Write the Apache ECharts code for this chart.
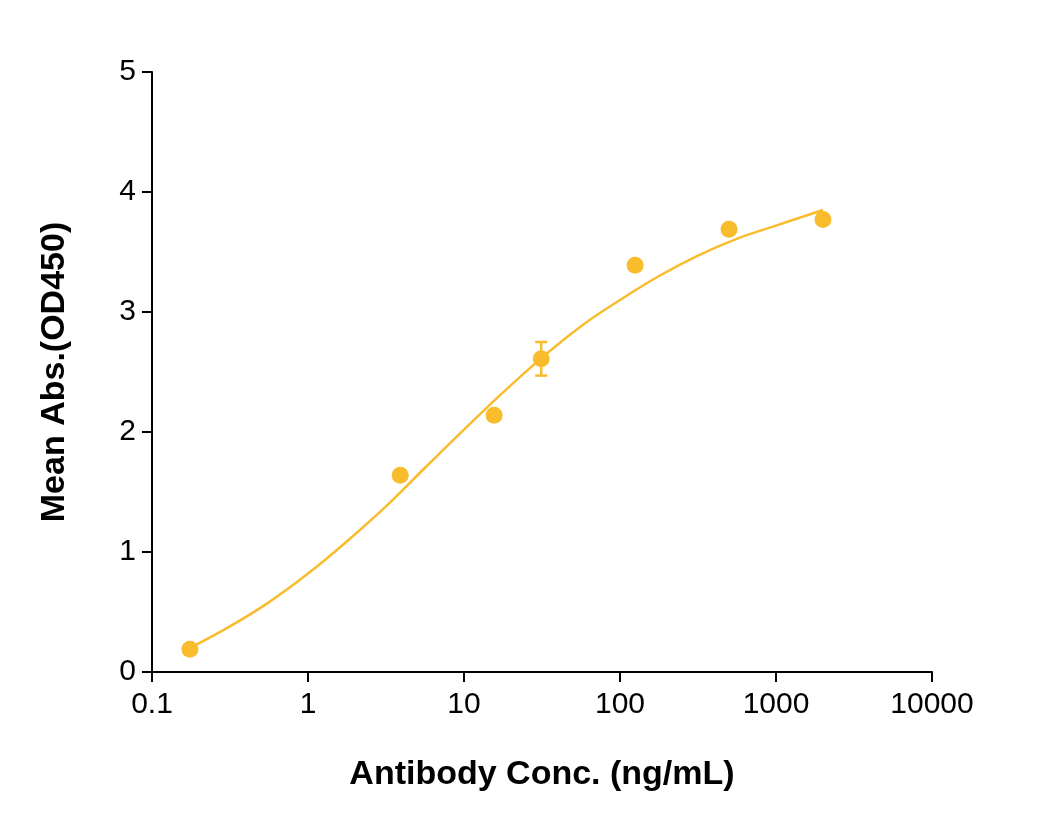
<!DOCTYPE html>
<html><head><meta charset="utf-8">
<script src="https://cdn.jsdelivr.net/npm/echarts@6/dist/echarts.min.js"></script>
<style>html,body{margin:0;background:#fff}#c{width:1055px;height:837px}</style>
</head><body><div id="c"></div>
<script>
// measured points
var conc = [0.175, 3.9, 15.6, 31.25, 125, 500, 2000];
var absMean = [0.19, 1.64, 2.14, 2.61, 3.39, 3.69, 3.77];
var absErr = [0, 0, 0, 0.14, 0, 0, 0];
// fitted curve
var curveX = [0.175, 0.316, 0.56, 1, 1.78, 3.16, 5.6, 10, 17.8, 31.6, 56, 100, 178, 316, 560, 1000, 2000];
var curveY = [0.2, 0.38, 0.58, 0.82, 1.09, 1.38, 1.7, 2.02, 2.33, 2.62, 2.88, 3.1, 3.3, 3.47, 3.61, 3.72, 3.85];

var col = '#F9BC2C';
var chart = echarts.init(document.getElementById('c'));
chart.setOption({
	animation:false,
	grid:{left:152, right:123, top:72, bottom:165},
	xAxis:{
		type:'log', min:0.1, max:10000, logBase:10,
		name:'Antibody Conc. (ng/mL)', nameLocation:'middle', nameGap:86,
		nameTextStyle:{fontSize:34, fontWeight:'bold', color:'#000', fontFamily:'Liberation Sans'},
		axisLine:{lineStyle:{color:'#000', width:2}},
		axisTick:{lineStyle:{color:'#000', width:2}, length:10},
		minorTick:{show:false},
		axisLabel:{fontSize:30, color:'#000', fontFamily:'Liberation Sans', margin:18,
			formatter:function(v){return v<1 ? '0.1' : String(Math.round(v));}},
		splitLine:{show:false}
	},
	yAxis:{
		type:'value', min:0, max:5, interval:1,
		name:'Mean Abs.(OD450)', nameLocation:'middle', nameGap:80,
		nameTextStyle:{fontSize:34, fontWeight:'bold', color:'#000', fontFamily:'Liberation Sans'},
		axisLine:{show:true, lineStyle:{color:'#000', width:2}},
		axisTick:{show:true, lineStyle:{color:'#000', width:2}, length:10},
		axisLabel:{fontSize:30, color:'#000', fontFamily:'Liberation Sans', margin:16},
		splitLine:{show:false}
	},
	series:[{
		type:'line', smooth:0.4, showSymbol:false,
		data:curveX.map(function(x,i){return [x, curveY[i]];}),
		lineStyle:{color:col, width:2.5}
	},{
		type:'custom',
		data:conc.map(function(x,i){return [x, absMean[i], absErr[i]];}),
		renderItem:function(params, api){
			var e = api.value(2);
			if(!e) return null;
			var x = api.value(0), y = api.value(1);
			var hi = api.coord([x, y+e]), lo = api.coord([x, y-e]);
			var s = {stroke:col, lineWidth:2.5};
			return {type:'group', children:[
				{type:'line', shape:{x1:hi[0],y1:hi[1],x2:lo[0],y2:lo[1]}, style:s},
				{type:'line', shape:{x1:hi[0]-6,y1:hi[1],x2:hi[0]+6,y2:hi[1]}, style:s},
				{type:'line', shape:{x1:lo[0]-6,y1:lo[1],x2:lo[0]+6,y2:lo[1]}, style:s}
			]};
		}
	},{
		type:'scatter', symbolSize:17,
		data:conc.map(function(x,i){return [x, absMean[i]];}),
		itemStyle:{color:col, opacity:1}
	}]
});
</script></body></html>
